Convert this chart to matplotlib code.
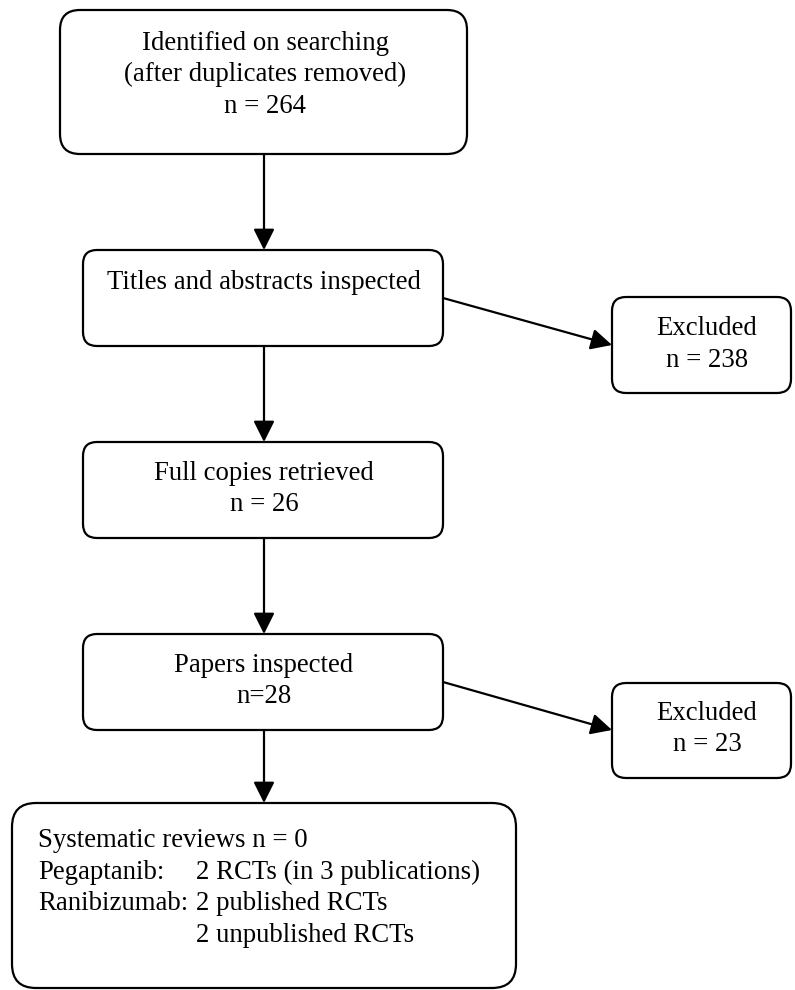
import matplotlib.pyplot as plt
from matplotlib.patches import FancyBboxPatch, FancyArrowPatch

plt.rcParams['font.family'] = ['Liberation Serif', 'DejaVu Serif']

# flow counts
n_identified = 264
n_excluded_1 = 238
n_retrieved = 26
n_inspected = 28
n_excluded_2 = 23
n_sys_reviews = 0

identified_lines = ['Identified on searching', '(after duplicates removed)', f'n = {n_identified}']
titles_lines = ['Titles and abstracts inspected']
retrieved_lines = ['Full copies retrieved', f'n = {n_retrieved}']
papers_lines = ['Papers inspected', f'n={n_inspected}']
excl1_lines = ['Excluded', f'n = {n_excluded_1}']
excl2_lines = ['Excluded', f'n = {n_excluded_2}']
result_rows = [('Systematic reviews n = ' + str(n_sys_reviews), ''),
               ('Pegaptanib:', '2 RCTs (in 3 publications)'),
               ('Ranibizumab:', '2 published RCTs'),
               ('', '2 unpublished RCTs')]

fig = plt.figure(figsize=(7.95, 9.9), dpi=100)
ax = fig.add_axes([0, 0, 1, 1])
ax.set_xlim(0, 795)
ax.set_ylim(990, 0)
ax.axis('off')

FS = 19.3
LW = 1.6


def box(x0, y0, x1, y1, r):
    p = FancyBboxPatch((x0, y0), x1 - x0, y1 - y0,
                       boxstyle=f'round,pad=0,rounding_size={r}',
                       fc='white', ec='black', lw=LW)
    ax.add_patch(p)


def arrow(x0, y0, x1, y1):
    a = FancyArrowPatch((x0, y0), (x1, y1), arrowstyle='-|>',
                        mutation_scale=32, color='black', lw=LW,
                        shrinkA=0, shrinkB=0)
    ax.add_patch(a)


def lines(xc, baselines, texts):
    for yb, t in zip(baselines, texts):
        ax.text(xc, yb, t, ha='center', va='baseline', fontsize=FS)


# boxes
box(60, 10, 467, 154, 20)
lines(265, [50, 81, 113], identified_lines)

box(83, 250, 443, 346, 14)
lines(264, [289], titles_lines)

box(83, 442, 443, 538, 14)
lines(264, [480, 511], retrieved_lines)

box(83, 634, 443, 730, 14)
lines(264, [672, 703], papers_lines)

box(612, 297, 791, 393, 14)
lines(707, [335, 367], excl1_lines)

box(612, 683, 791, 778, 14)
lines(707, [720, 751], excl2_lines)

box(12, 803, 516, 988, 24)
for yb, (a, b) in zip([847, 879, 910, 942], result_rows):
    if a:
        ax.text(38, yb, a, ha='left', va='baseline', fontsize=FS)
    if b:
        ax.text(196, yb, b, ha='left', va='baseline', fontsize=FS)

# arrows
arrow(264, 154, 264, 250)
arrow(264, 346, 264, 442)
arrow(264, 538, 264, 634)
arrow(264, 730, 264, 803)
arrow(443, 298, 612, 345)
arrow(443, 682, 612, 730)

fig.savefig('out.png', dpi=100)
